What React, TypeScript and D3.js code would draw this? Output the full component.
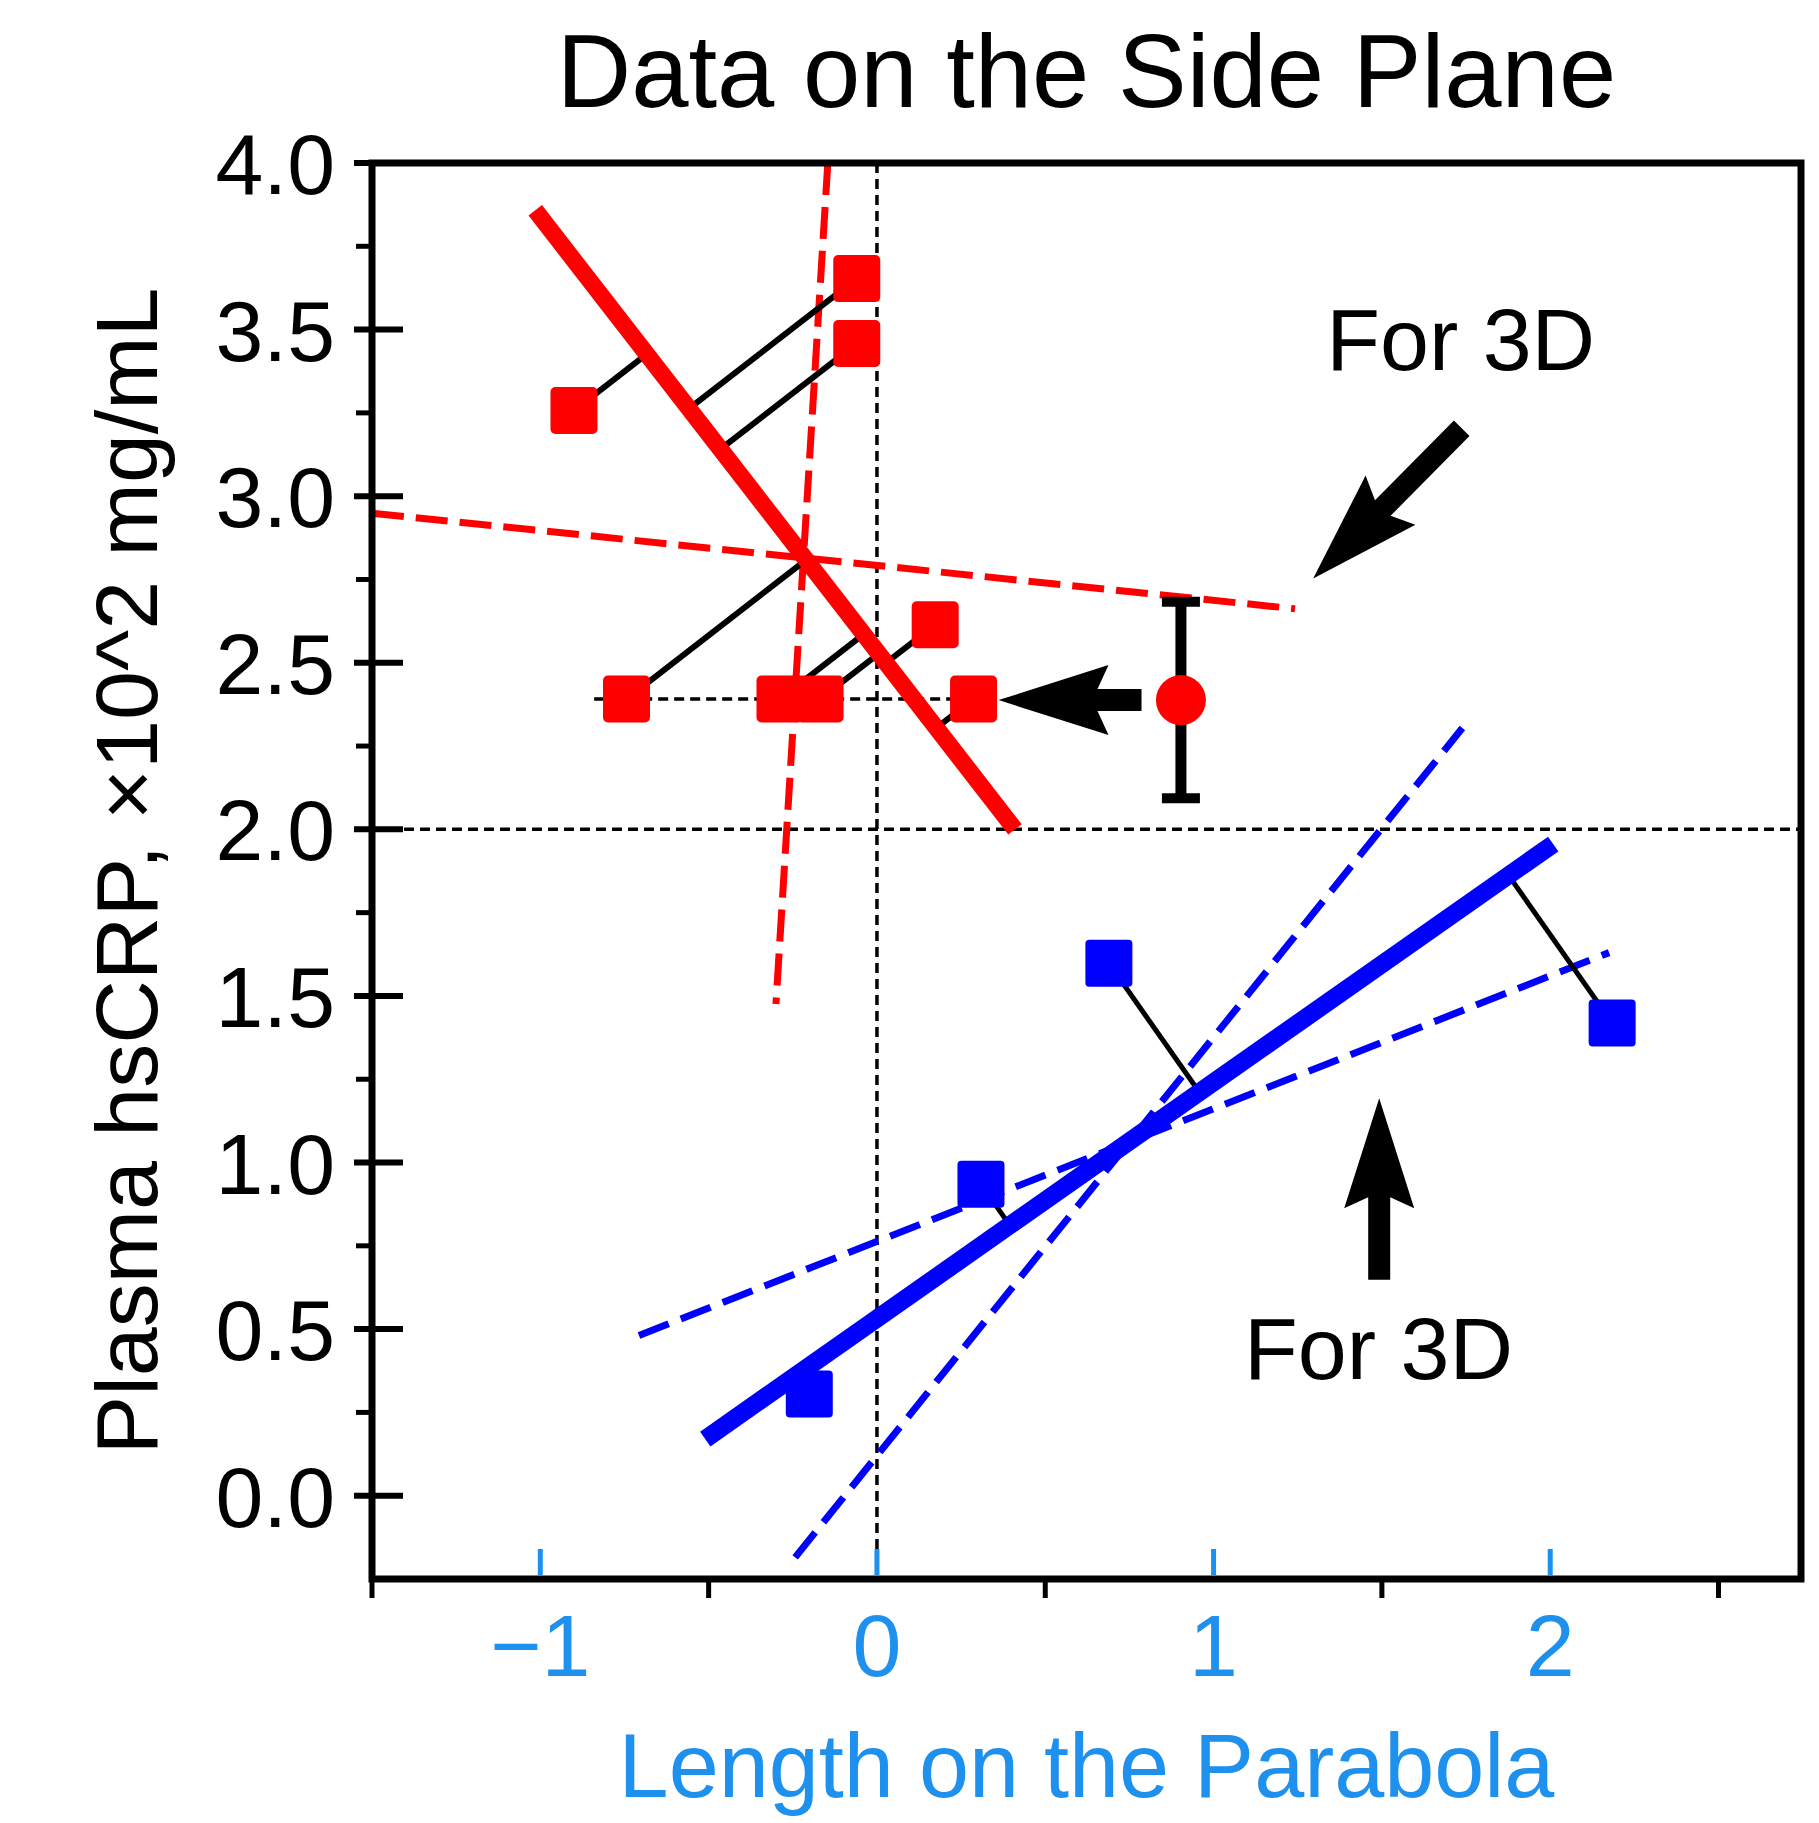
import React from "react";
import * as d3 from "d3";

// ---------- data ----------
const yTickValues = [0, 0.5, 1, 1.5, 2, 2.5, 3, 3.5, 4];
const yMinorValues = [0.25, 0.75, 1.25, 1.75, 2.25, 2.75, 3.25, 3.75];
const xLabelTicks = [-1, 0, 1, 2];
const xBlackTicks = [-1.5, -0.5, 0.5, 1.5, 2.5];

const redSquaresX = [-0.9, -0.06, -0.06, -0.744, -0.288, -0.169, 0.173, 0.287];
const redSquaresY = [3.257, 3.653, 3.458, 2.391, 2.391, 2.391, 2.614, 2.391];
const blueSquaresX = [0.689, 2.184, 0.309, -0.201];
const blueSquaresY = [1.598, 1.419, 0.935, 0.305];

const redFitX = [-1.015, 0.41];
const redFitY = [3.858, 2.0];
const redSteepX = [-0.146, -0.3];
const redSteepY = [4.0, 1.476];
const redFlatX = [-1.5, 1.242];
const redFlatY = [2.949, 2.662];

const blueFitX = [-0.51, 2.009];
const blueFitY = [0.17, 1.956];
const blueSteepX = [-0.243, 1.739];
const blueSteepY = [-0.185, 2.304];
const blueFlatX = [-0.707, 2.175];
const blueFlatY = [0.481, 1.63];

const meanX = 0.903;
const meanY = 2.388;
const meanErr = 0.295;

const refLineY = 2.0;
const refLineX = 0;
const rowLineX = [-0.84, 0.287];
const rowLineY = 2.391;

// arrows: [tailX, tailY, tipX, tipY]
const arrowUpper = [1.737, 3.204, 1.296, 2.753];
const arrowLower = [1.492, 0.648, 1.492, 1.193];
const arrowLeft = [0.786, 2.388, 0.361, 2.388];

const annUpper = { x: 1.734, y: 3.38, text: "For 3D" };
const annLower = { x: 1.49, y: 0.35, text: "For 3D" };

const titleText = "Data on the Side Plane";
const xTitle = "Length on the Parabola";
const yTitle = "Plasma hsCRP, \u00d710^2 mg/mL";

// ---------- layout ----------
const W = 1819;
const H = 1823;
const L = 372, R = 1801, T = 163, B = 1579;
const FONT = "'Liberation Sans', Arial, Helvetica, sans-serif";
const RED = "#ff0000";
const BLUE = "#0000ff";
const TXTBLUE = "#1e90ee";

export default function App() {
  const x = d3.scaleLinear().domain([-1.5, 2.745]).range([L, R]);
  const y = d3.scaleLinear().domain([-0.25, 4]).range([B, T]);

  const project = (px: number, py: number, xs: number[], ys: number[]) => {
    const ax = x(xs[0]), ay = y(ys[0]), bx = x(xs[1]), by = y(ys[1]);
    const dx = bx - ax, dy = by - ay;
    const t = ((px - ax) * dx + (py - ay) * dy) / (dx * dx + dy * dy);
    return [ax + t * dx, ay + t * dy];
  };

  const arrowPath = (a: number[]) => {
    const sx = x(a[0]), sy = y(a[1]), tx = x(a[2]), ty = y(a[3]);
    const len = Math.hypot(tx - sx, ty - sy);
    const ux = (tx - sx) / len, uy = (ty - sy) / len;
    const vx = -uy, vy = ux;
    const HL = 110, HW = 35, N = 11, S = 11;
    const p = (d: number, w: number) => [tx - ux * d + vx * w, ty - uy * d + vy * w];
    const pts = [
      [tx, ty],
      p(HL, HW),
      p(HL - N, S),
      [sx + vx * S, sy + vy * S],
      [sx - vx * S, sy - vy * S],
      p(HL - N, -S),
      p(HL, -HW),
    ];
    return "M" + pts.map((q) => q[0].toFixed(1) + "," + q[1].toFixed(1)).join("L") + "Z";
  };

  const line = (xs: number[], ys: number[]) =>
    d3.line()(xs.map((v, i) => [x(v), y(ys[i])] as [number, number])) || "";

  const SQ = 47;
  const fmt = d3.format(".1f");
  const xfmt = (v: number) => (v < 0 ? "\u2212" + Math.abs(v) : String(v));

  return (
    <svg
      width={W}
      height={H}
      style={{ position: "absolute", left: 0, top: 0, background: "#fff" }}
      fontFamily={FONT}
    >
      <rect x={0} y={0} width={W} height={H} fill="#fff" />
      {/* title */}
      <text x={(L + R) / 2} y={107} textAnchor="middle" fontSize={103} fill="#000">
        {titleText}
      </text>

      {/* reference dashed lines */}
      <line x1={L} x2={R} y1={y(refLineY)} y2={y(refLineY)} stroke="#000" strokeWidth={3.5} strokeDasharray="10,6" />
      <line x1={x(refLineX)} x2={x(refLineX)} y1={T} y2={B} stroke="#000" strokeWidth={3.5} strokeDasharray="10,6" />
      <line x1={x(rowLineX[0])} x2={x(rowLineX[1])} y1={y(rowLineY)} y2={y(rowLineY)} stroke="#000" strokeWidth={3.5} strokeDasharray="10,6" />

      {/* dashed confidence lines */}
      <path d={line(redSteepX, redSteepY)} stroke={RED} strokeWidth={7} strokeDasharray="32,12" fill="none" />
      <path d={line(redFlatX, redFlatY)} stroke={RED} strokeWidth={7} strokeDasharray="32,12" fill="none" />
      <path d={line(blueSteepX, blueSteepY)} stroke={BLUE} strokeWidth={7} strokeDasharray="32,13" fill="none" />
      <path d={line(blueFlatX, blueFlatY)} stroke={BLUE} strokeWidth={7} strokeDasharray="32,13" fill="none" />

      {/* projection lines */}
      {redSquaresX.map((v, i) => {
        const px = x(v), py = y(redSquaresY[i]);
        const q = project(px, py, redFitX, redFitY);
        return <line key={"rp" + i} x1={px} y1={py} x2={q[0]} y2={q[1]} stroke="#000" strokeWidth={6} />;
      })}
      {blueSquaresX.map((v, i) => {
        const px = x(v), py = y(blueSquaresY[i]);
        const q = project(px, py, blueFitX, blueFitY);
        return <line key={"bp" + i} x1={px} y1={py} x2={q[0]} y2={q[1]} stroke="#000" strokeWidth={5} />;
      })}

      {/* fit lines */}
      <path d={line(redFitX, redFitY)} stroke={RED} strokeWidth={17} fill="none" />
      <path d={line(blueFitX, blueFitY)} stroke={BLUE} strokeWidth={18} fill="none" />

      {/* squares */}
      {redSquaresX.map((v, i) => (
        <rect key={"rs" + i} x={x(v) - SQ / 2} y={y(redSquaresY[i]) - SQ / 2} width={SQ} height={SQ} rx={5} fill={RED} />
      ))}
      {blueSquaresX.map((v, i) => (
        <rect key={"bs" + i} x={x(v) - SQ / 2} y={y(blueSquaresY[i]) - SQ / 2} width={SQ} height={SQ} rx={4} fill={BLUE} />
      ))}

      {/* mean with error bar */}
      <line x1={x(meanX)} x2={x(meanX)} y1={y(meanY - meanErr)} y2={y(meanY + meanErr)} stroke="#000" strokeWidth={11} />
      <line x1={x(meanX) - 19} x2={x(meanX) + 19} y1={y(meanY + meanErr)} y2={y(meanY + meanErr)} stroke="#000" strokeWidth={10} />
      <line x1={x(meanX) - 19} x2={x(meanX) + 19} y1={y(meanY - meanErr)} y2={y(meanY - meanErr)} stroke="#000" strokeWidth={10} />
      <circle cx={x(meanX)} cy={y(meanY)} r={25} fill={RED} />

      {/* arrows */}
      <path d={arrowPath(arrowUpper)} fill="#000" />
      <path d={arrowPath(arrowLower)} fill="#000" />
      <path d={arrowPath(arrowLeft)} fill="#000" />

      {/* annotations */}
      <text x={x(annUpper.x)} y={y(annUpper.y)} textAnchor="middle" fontSize={88} fill="#000">{annUpper.text}</text>
      <text x={x(annLower.x)} y={y(annLower.y)} textAnchor="middle" fontSize={88} fill="#000">{annLower.text}</text>

      {/* frame */}
      <rect x={L} y={T} width={R - L} height={B - T} fill="none" stroke="#000" strokeWidth={7} />

      {/* y ticks */}
      {yTickValues.map((v) => (
        <g key={"yt" + v}>
          <line x1={L - 18} x2={L + 31} y1={y(v)} y2={y(v)} stroke="#000" strokeWidth={6} />
          <text x={335} y={y(v) + 31} textAnchor="end" fontSize={86} fill="#000">{fmt(v)}</text>
        </g>
      ))}
      {yMinorValues.map((v) => (
        <line key={"ym" + v} x1={L - 16} x2={L} y1={y(v)} y2={y(v)} stroke="#000" strokeWidth={5} />
      ))}

      {/* x ticks */}
      {xBlackTicks.map((v) => (
        <line key={"xb" + v} x1={x(v)} x2={x(v)} y1={B} y2={B + 19} stroke="#000" strokeWidth={5} />
      ))}
      {xLabelTicks.map((v) => (
        <g key={"xl" + v}>
          <line x1={x(v)} x2={x(v)} y1={B - 30} y2={B - 3} stroke={TXTBLUE} strokeWidth={5} />
          <text x={x(v)} y={1676} textAnchor="middle" fontSize={88} fill={TXTBLUE}>{xfmt(v)}</text>
        </g>
      ))}

      {/* axis titles */}
      <text x={(L + R) / 2} y={1797} textAnchor="middle" fontSize={90} fill={TXTBLUE}>{xTitle}</text>
      <text transform={`translate(157, ${(T + B) / 2}) rotate(-90)`} textAnchor="middle" fontSize={88} fill="#000">
        {yTitle}
      </text>
    </svg>
  );
}
